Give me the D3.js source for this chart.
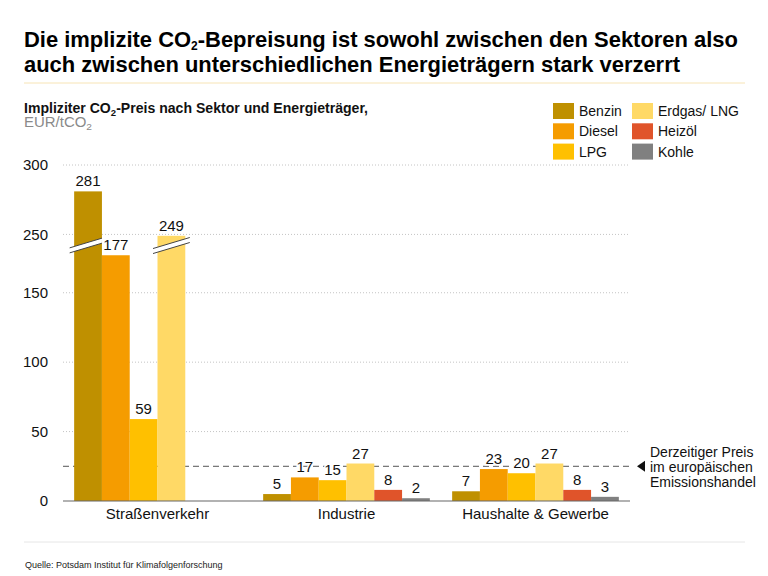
<!DOCTYPE html>
<html><head><meta charset="utf-8">
<script src="https://cdn.jsdelivr.net/npm/d3@7"></script>
<style>
body{margin:0;background:#fff;}
svg{display:block;font-family:"Liberation Sans",Arial,Helvetica,sans-serif;}
</style></head>
<body>
<svg id="chart" width="768" height="576"></svg>
<script>
const sectors = ["Straßenverkehr", "Industrie", "Haushalte & Gewerbe"];
const fuels = ["Benzin", "Diesel", "LPG", "Erdgas/ LNG", "Heizöl", "Kohle"];
const benzin  = [281, 5, 7];
const diesel  = [177, 17, 23];
const lpg     = [59, 15, 20];
const erdgas  = [249, 27, 27];
const heizoel = [null, 8, 8];
const kohle   = [null, 2, 3];
const fuelColors = ["#BF9000", "#F59C00", "#FFC000", "#FFD966", "#E0542A", "#808080"];
const yTicks = [0, 50, 100, 150, 250, 300];
const etsPrice = 25;
const breakFrom = 184, breakTo = 242; // axis gap

(function () {
const series = [benzin, diesel, lpg, erdgas, heizoel, kohle];
const data = [];
sectors.forEach((s, i) => fuels.forEach((f, j) => {
  if (series[j][i] != null) data.push({sector: s, fuel: f, value: series[j][i], idx: j});
}));

const svg = d3.select("#chart");
const pL = 63, pR = 630, pB = 501, pT = 165;

// broken y scale
const lin = d3.scaleLinear().domain([0, 300 - (breakTo - breakFrom)]).range([pB, pT]);
const y = d3.scaleLinear()
  .domain([0, breakFrom, breakTo, 300])
  .range([lin(0), lin(breakFrom), lin(breakFrom), lin(300 - (breakTo - breakFrom))]);

const x0 = d3.scaleBand().domain(sectors).range([pL, pR]).paddingInner(0.118).paddingOuter(0.059);
const x1 = d3.scaleBand().domain(fuels).range([0, x0.bandwidth()]);
const color = d3.scaleOrdinal().domain(fuels).range(fuelColors);

// Title
const title = [
  ["Die implizite CO", "2", "-Bepreisung ist sowohl zwischen den Sektoren also", 46.5, 714],
  ["auch zwischen unterschiedlichen Energieträgern stark verzerrt", null, null, 71.5, 656]
];
title.forEach(t => {
  const tx = svg.append("text").attr("x", 24).attr("y", t[3])
    .attr("font-size", 22).attr("font-weight", "bold").attr("fill", "#000")
    .attr("textLength", t[4]).attr("lengthAdjust", "spacingAndGlyphs");
  tx.append("tspan").text(t[0]);
  if (t[1]) {
    tx.append("tspan").attr("dy", 3).attr("font-size", 12).text(t[1]);
    tx.append("tspan").attr("dy", -3).text(t[2]);
  }
});
svg.append("line").attr("x1", 24).attr("x2", 745).attr("y1", 83).attr("y2", 83)
  .attr("stroke", "#f7e4b5").attr("stroke-width", 1);

// Subtitle
const st = svg.append("text").attr("x", 24).attr("y", 112.5).attr("font-size", 14)
  .attr("font-weight", "bold").attr("fill", "#111")
  .attr("textLength", 344).attr("lengthAdjust", "spacingAndGlyphs");
st.append("tspan").text("Impliziter CO");
st.append("tspan").attr("dy", 3).attr("font-size", 9.5).text("2");
st.append("tspan").attr("dy", -3).text("-Preis nach Sektor und Energieträger,");
const unit = svg.append("text").attr("x", 24).attr("y", 127).attr("font-size", 14)
  .attr("fill", "#8a8a8a")
  .attr("textLength", 68).attr("lengthAdjust", "spacingAndGlyphs");
unit.append("tspan").text("EUR/tCO");
unit.append("tspan").attr("dy", 3).attr("font-size", 9.5).text("2");

// Gridlines
svg.append("g").selectAll("line").data(yTicks.filter(d => d > 0)).join("line")
  .attr("x1", pL).attr("x2", pR)
  .attr("y1", d => y(d)).attr("y2", d => y(d))
  .attr("stroke", "#c4c4c4").attr("stroke-dasharray", "1,2");

// Y axis
const yAxis = d3.axisLeft(y).tickValues(yTicks).tickSize(0).tickPadding(15);
const ga = svg.append("g").attr("transform", `translate(${pL},0)`).call(yAxis);
ga.select(".domain").remove();
ga.selectAll("text").attr("font-size", 15).attr("fill", "#111")
  .attr("font-family", '"Liberation Sans",Arial,sans-serif');

// Dashed ETS line
svg.append("line").attr("x1", pL).attr("x2", pR)
  .attr("y1", y(etsPrice)).attr("y2", y(etsPrice))
  .attr("stroke", "#555").attr("stroke-dasharray", "6,4").attr("stroke-width", 1);

// Bars
svg.append("g").selectAll("rect").data(data).join("rect")
  .attr("x", d => x0(d.sector) + x1(d.fuel))
  .attr("width", x1.bandwidth())
  .attr("y", d => y(d.value))
  .attr("height", d => y(0) - y(d.value))
  .attr("fill", d => color(d.fuel));

// Break marks
const bw = x1.bandwidth();
const cy = y(breakFrom);
data.filter(d => d.value > breakTo).forEach(d => {
  const bx = x0(d.sector) + x1(d.fuel);
  const next = data.find(e => e.sector === d.sector && e.idx === d.idx + 1);
  const xl = bx - 4.5, xr = bx + bw + (next && next.value > 150 ? 0 : 4.5);
  const s = 0.3, g = 2.5, w = xr - xl;
  const yl = cy + s * w / 2, yr = cy - s * w / 2;
  svg.append("polygon")
    .attr("points", `${xl},${yl - g} ${xr},${yr - g} ${xr},${yr + g} ${xl},${yl + g}`)
    .attr("fill", "#fff");
  [-g, g].forEach(o => svg.append("line")
    .attr("x1", xl).attr("y1", yl + o).attr("x2", xr).attr("y2", yr + o)
    .attr("stroke", "#444").attr("stroke-width", 1));
});

// Baseline
svg.append("line").attr("x1", pL).attr("x2", pR).attr("y1", y(0)).attr("y2", y(0))
  .attr("stroke", "#666").attr("stroke-width", 1.2);

// Value labels
svg.append("g").selectAll("text").data(data).join("text")
  .attr("x", d => x0(d.sector) + x1(d.fuel) + bw / 2)
  .attr("y", d => y(d.value) - 5)
  .attr("text-anchor", "middle").attr("font-size", 15).attr("fill", "#111")
  .attr("stroke", "#fff").attr("stroke-width", 3).attr("paint-order", "stroke")
  .text(d => d.value);

// Category labels
svg.append("g").selectAll("text").data(sectors).join("text")
  .attr("x", d => x0(d) + x0.bandwidth() / 2).attr("y", 518.5)
  .attr("text-anchor", "middle").attr("font-size", 15).attr("fill", "#111")
  .text(d => d);

// ETS annotation
const ty = y(etsPrice);
svg.append("path").attr("d", `M637,${ty} L645,${ty - 5.5} L645,${ty + 5.5} Z`).attr("fill", "#111");
["Derzeitiger Preis", "im europäischen", "Emissionshandel"].forEach((t, i) => {
  svg.append("text").attr("x", 650).attr("y", 456.5 + i * 15).attr("font-size", 14)
    .attr("fill", "#111").text(t);
});

// Legend
const legend = svg.append("g");
fuels.forEach((f, i) => {
  const col = Math.floor(i / 3), row = i % 3;
  const lx = col === 0 ? 553 : 632, ly = 103 + row * 20.3;
  legend.append("rect").attr("x", lx).attr("y", ly).attr("width", 21).attr("height", 16)
    .attr("fill", color(f));
  legend.append("text").attr("x", lx + 26).attr("y", ly + 13).attr("font-size", 14)
    .attr("fill", "#111").text(f);
});

// Footer
svg.append("line").attr("x1", 24).attr("x2", 745).attr("y1", 542).attr("y2", 542)
  .attr("stroke", "#e6e6e6");
svg.append("text").attr("x", 25).attr("y", 568).attr("font-size", 9).attr("fill", "#222")
  .text("Quelle: Potsdam Institut für Klimafolgenforschung");
})();
</script>
</body></html>
